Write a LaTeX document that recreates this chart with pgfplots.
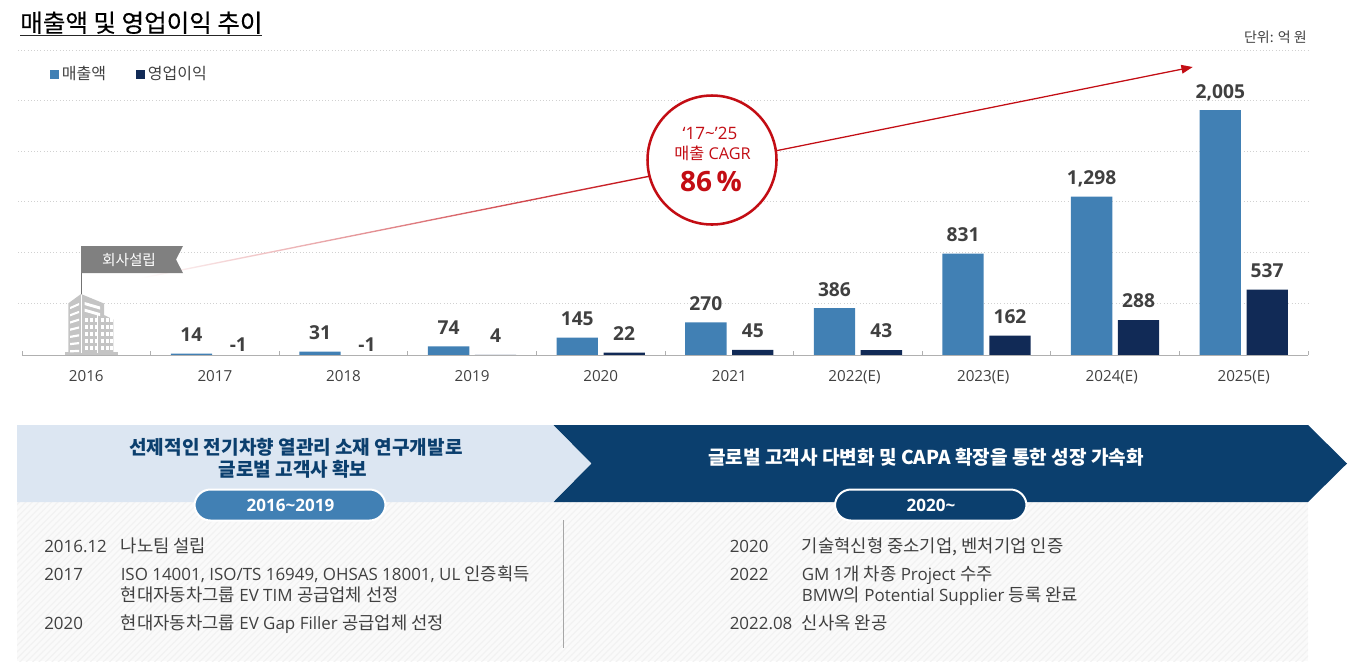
\documentclass[border=0pt]{standalone}
\usepackage{fontspec}
\usepackage{pgfplots}
\pgfplotsset{compat=1.18}
\usetikzlibrary{arrows.meta,patterns.meta}
\setmainfont{Open Sans}
\newfontfamily\krf{Noto Sans CJK KR}
\newfontfamily\krt[FakeBold=0.35]{Noto Sans CJK KR}
\newcommand{\kr}[1]{{\krf #1}}
\newcommand{\krs}[1]{{\fontsize{13.3}{13}\selectfont\krf #1}}
\definecolor{rev}{HTML}{4180B4}
\definecolor{prof}{HTML}{112A56}
\definecolor{txt}{HTML}{404040}
\definecolor{cred}{HTML}{C30D14}
\definecolor{navy}{HTML}{0B3F6E}
\definecolor{lightb}{HTML}{DCE6F2}
\definecolor{bar1}{HTML}{B0B0B0}
\definecolor{bld}{HTML}{C4C4C4}
\pgfplotstableread{
x y dy
1 14 0
2 31 0
3 74 0
4 145 0
5 270 0
6 386 0
7 831 0
8 1298 -1.5
9 2005 -2.25
}\revtable
\pgfplotstableread{
x y dy
1 -1 -6.25
2 -1 -6.25
3 4 0
4 22 0
5 45 0
6 43 0
7 162 0
8 288 0
9 537 0
}\proftable
\tikzset{px/.style={x=0.75pt,y=-0.75pt},
  lst/.style={anchor=base west,inner sep=0,text=txt,font=\fontsize{12.7}{13}\selectfont}}
\begin{document}
\begin{tikzpicture}
\useasboundingbox (0,0) rectangle (1014pt,-501.75pt);
\begin{scope}[px]
\node[anchor=base west,inner sep=0,text=black] at (20,32) {\fontsize{18.4}{20}\selectfont\krt 매출액 및 영업이익 추이};
\draw[black!85,line width=1.1pt] (20,35.5) -- (261.5,35.5);
\node[anchor=base east,inner sep=0,text=txt] at (1307,42) {\fontsize{10.5}{12}\selectfont\krf 단위: 억 원};
\end{scope}
\begin{axis}[
  at={(13.5pt,-266.475pt)},anchor=south west,scale only axis,
  width=967.5pt,height=229pt,
  xmin=-0.531,xmax=9.5,ymin=0,ymax=2498,
  clip=false,
  axis x line=bottom,axis y line=left,
  axis line style={draw=none},
  xtick={0,...,9},
  xticklabels={2016,2017,2018,2019,2020,2021,2022(E)\kern5pt,2023(E)\kern5pt,2024(E)\kern5pt,2025(E)},
  xticklabel style={text=txt,font=\fontsize{11.4}{12}\selectfont,yshift=-3.4pt},
  xtick style={draw=none},
  ytick={428,843,1257,1669,2087,2498},
  yticklabels={},
  ytick style={draw=none},
  ymajorgrids,
  grid style={dotted,line width=0.6pt,black!18},
  ybar,bar width=31pt,
  /pgf/number format/assume math mode=true,
  /pgf/number format/1000 sep={,},
  /pgf/number format/fixed,
  nodes near coords,
  every node near coord/.append style={anchor=south,text=txt,inner sep=0pt,yshift=\dy pt+8.75pt,font=\fontsize{14.4}{15}\selectfont\bfseries},
  visualization depends on=\thisrow{dy}\as\dy,
  point meta=y,
  legend cell align=left,
  legend columns=2,
  legend style={at={(0.0248,0.921)},anchor=west,draw=none,fill=none,inner sep=0pt,
    font=\fontsize{12}{13}\selectfont\krf\color{txt},
    /tikz/every even column/.append style={column sep=20.5pt}},
  legend image code/.code={\fill[#1] (0pt,-3.4pt) rectangle (6.8pt,3.4pt);},
]
\addplot[draw=none,fill=rev,bar shift=-17.6pt] table[x=x,y=y]{\revtable};
\addplot[draw=none,fill=prof,bar shift=17.6pt] table[x=x,y=y]{\proftable};
\legend{매출액,영업이익}
\draw[bar1,line width=0.9pt] (axis cs:-0.5,0) -- (axis cs:9.5,0);
\pgfplotsinvokeforeach{-0.5,0.5,1.5,2.5,3.5,4.5,5.5,6.5,7.5,8.5,9.5}{
  \draw[bar1,line width=0.7pt] (axis cs:#1,0) -- (axis cs:#1,38);}
\end{axis}
\begin{scope}[px]
% arrow
\shade[left color=white,right color=cred] (140,277.6) -- (648,175.8) -- (648,177.2) -- (140,279) -- cycle;
\draw[cred,line width=0.95pt,-{Triangle[length=8.5pt,width=6.5pt]}] (648,176.5) -- (1192.7,67);
% building
\fill[bld] (65,352) rectangle (118,355);
\fill[bld] (68.3,353) -- (68.3,303.3) -- (81,294) -- (104,303.5) -- (104,315) -- (113.3,319.5) -- (113.3,353) -- cycle;
\foreach \i in {0,...,6}{
  \fill[white] (70,{307+\i*7.2}) -- (79,{303+\i*7.8}) -- (79,{305.2+\i*7.8}) -- (70,{309.2+\i*7.2}) -- cycle;}
\foreach \i in {0,1}{
  \fill[white] (84.5,{302+\i*6.6}) -- (100,{306.5+\i*6.6}) -- (100,{309.5+\i*6.6}) -- (84.5,{305+\i*6.6}) -- cycle;}
\fill[white] (80.5,295) rectangle (81.6,353);
\fill[white] (96.5,314) rectangle (98,353);
\foreach \cx in {85,90,95,101,106,110}\foreach \cy in {318,325,332,339,346}{
  \fill[white] (\cx,\cy) rectangle ++(2.6,3.6);}
\fill[bld] (88,314) rectangle (89.5,353);
% flag
\draw[black!55,line width=0.7pt] (81,246) -- (81,294);
\fill[black!50] (81,246) -- (183,246) -- (176,259.5) -- (183,273) -- (81,273) -- cycle;
\node[text=white,inner sep=0] at (129,260) {\fontsize{11}{12}\selectfont\krf 회사설립};
% circle
\draw[cred,fill=white,line width=1.9pt] (712,160) circle (64.5);
\node[text=cred,inner sep=0,anchor=base] at (710,139.5) {\fontsize{12.8}{13}\selectfont ‘17\textasciitilde’25};
\node[text=cred,inner sep=0,anchor=base] at (712.5,159.5) {\fontsize{12.2}{13}\selectfont\kr{매출} CAGR};
\node[text=cred,inner sep=0,anchor=base] at (711,191.5) {\fontsize{21}{24}\selectfont\bfseries 86\,\%};
% banners
\fill[black!2] (17,502) rectangle (1308,661);
\fill[pattern={Lines[angle=45,distance=3.4pt,line width=0.9pt]},pattern color=black!5] (17,502) rectangle (1308,661);
\fill[lightb] (17,425) -- (553,425) -- (591,463.5) -- (553,502) -- (17,502) -- cycle;
\fill[navy] (553.5,425) -- (1308,425) -- (1347,463.5) -- (1308,502) -- (553.5,502) -- (591.5,463.5) -- cycle;
\draw[white,line width=1.5pt,fill=rev,rounded corners=12pt] (194.5,489.5) rectangle (385.5,520.5);
\draw[white,line width=1.5pt,fill=navy,rounded corners=12pt] (835,489.5) rectangle (1026.5,520.5);
\node[text=navy,inner sep=0,anchor=base] at (296,454) {\fontsize{14.3}{16}\selectfont\krf\bfseries 선제적인 전기차향 열관리 소재 연구개발로};
\node[text=navy,inner sep=0,anchor=base] at (293,476) {\fontsize{14.3}{16}\selectfont\krf\bfseries 글로벌 고객사 확보};
\node[text=white,inner sep=0,anchor=base] at (926,464) {\fontsize{14.3}{16}\selectfont\krf\bfseries 글로벌 고객사 다변화 및 CAPA 확장을 통한 성장 가속화};
\node[text=white,inner sep=0,anchor=base] at (290.5,511) {\fontsize{12.8}{14}\selectfont\bfseries 2016\textasciitilde2019};
\node[text=white,inner sep=0,anchor=base] at (931,511) {\fontsize{12.8}{14}\selectfont\bfseries 2020\textasciitilde};
\draw[black!35,line width=0.8pt] (563.5,520) -- (563.5,648);
% lists
\node[lst] at (44,552) {2016.12};
\node[lst] at (120.5,552) {\krs{나노팀 설립}};
\node[lst] at (44,580) {2017};
\node[lst] at (120.5,580) {ISO 14001, ISO/TS 16949, OHSAS 18001, UL \krs{인증획득}};
\node[lst] at (120.5,601) {\krs{현대자동차그룹} EV TIM \krs{공급업체 선정}};
\node[lst] at (44,629) {2020};
\node[lst] at (120.5,629) {\krs{현대자동차그룹} EV Gap Filler \krs{공급업체 선정}};
\node[lst] at (729.5,552) {2020};
\node[lst] at (801.5,552) {\krs{기술혁신형 중소기업, 벤처기업 인증}};
\node[lst] at (729.5,580) {2022};
\node[lst] at (801.5,580) {GM 1\krs{개 차종} Project \krs{수주}};
\node[lst] at (801.5,601) {BMW\krs{의} Potential Supplier \krs{등록 완료}};
\node[lst] at (729.5,629) {2022.08};
\node[lst] at (801.5,629) {\krs{신사옥 완공}};
\end{scope}
\end{tikzpicture}
\end{document}
